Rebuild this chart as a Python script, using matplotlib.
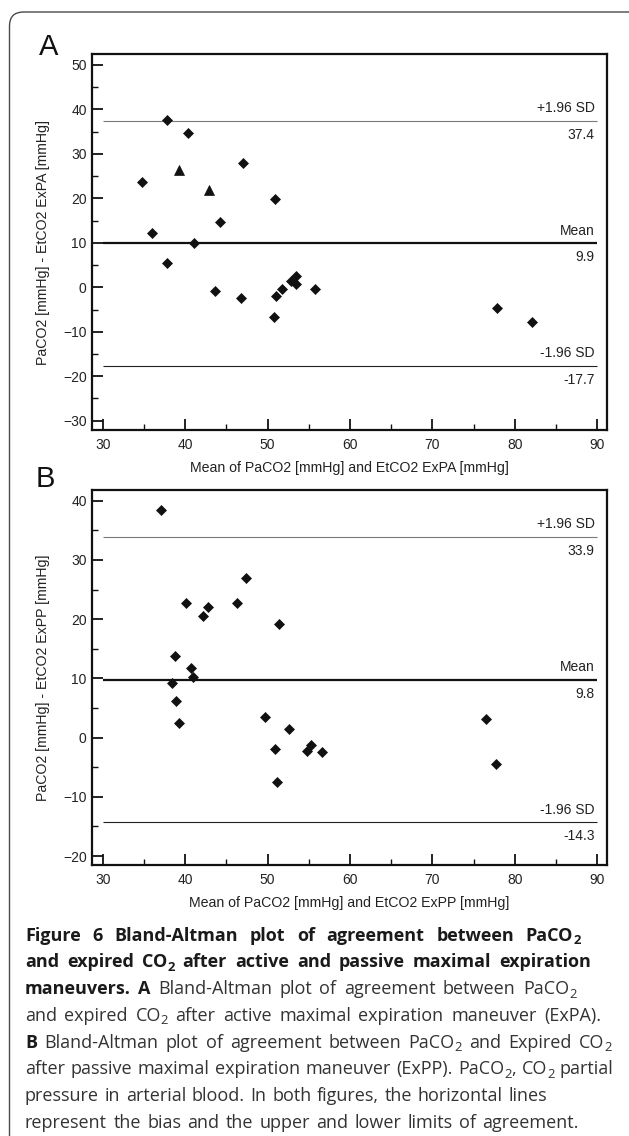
import matplotlib
matplotlib.use("Agg")
import matplotlib.pyplot as plt
from matplotlib.patches import FancyBboxPatch
from matplotlib.transforms import IdentityTransform
from matplotlib.ticker import MultipleLocator

# ---------------- data ----------------
# Panel A: active maximal expiration (ExPA)
a_mean_x = [37.85, 40.4, 34.78, 47.0, 50.96, 44.28, 36.04, 41.1, 37.8, 43.6, 46.8,
            51.05, 51.8, 52.8, 53.4, 53.4, 55.8, 50.8, 77.8, 82.1]
a_diff_y = [37.6, 34.7, 23.7, 28.0, 19.85, 14.66, 12.2, 10.0, 5.4, -0.9, -2.3,
            -1.9, -0.45, 1.3, 2.6, 0.75, -0.4, -6.6, -4.66, -7.8]
a_tri_x = [39.26, 42.87]
a_tri_y = [26.3, 21.8]
a_limits = {"upper": 37.4, "mean": 9.9, "lower": -17.7}

# Panel B: passive maximal expiration (ExPP)
b_mean_x = [37.1, 47.35, 40.14, 42.77, 42.13, 46.28, 51.4, 38.72, 40.72, 41.0, 38.43,
            38.87, 39.2, 49.64, 52.6, 50.96, 51.1, 54.8, 55.25, 56.66, 76.5, 77.7]
b_diff_y = [38.5, 26.9, 22.7, 22.0, 20.45, 22.8, 19.1, 13.8, 11.7, 10.3, 9.2,
            6.1, 2.5, 3.45, 1.47, -1.92, -7.46, -2.26, -1.3, -2.43, 3.2, -4.4]
b_limits = {"upper": 33.9, "mean": 9.8, "lower": -14.3}

x_ticks = [30, 40, 50, 60, 70, 80, 90]
a_y_ticks = [-30, -20, -10, 0, 10, 20, 30, 40, 50]
b_y_ticks = [-20, -10, 0, 10, 20, 30, 40]

CAPTION_LINES = [
    [("Figure 6 Bland-Altman plot of agreement between PaCO_2", True)],
    [("and expired CO_2 after active and passive maximal expiration", True)],
    [("maneuvers. A", True), (" Bland-Altman plot of agreement between PaCO_2", False)],
    [("and expired CO_2 after active maximal expiration maneuver (ExPA).", False)],
    [("B", True), (" Bland-Altman plot of agreement between PaCO_2 and Expired CO_2", False)],
    [("after passive maximal expiration maneuver (ExPP). PaCO_2, CO_2 partial", False)],
    [("pressure in arterial blood. In both figures, the horizontal lines", False)],
    [("represent the bias and the upper and lower limits of agreement.", False)],
]

# ---------------- figure ----------------
W, H = 629, 1136
DPI = 100
fig = plt.figure(figsize=(W / DPI, H / DPI), dpi=DPI)
fig.patch.set_facecolor("white")

PLOT_FONT = ["Liberation Sans", "DejaVu Sans"]
CAP_FONT = ["Open Sans", "DejaVu Sans"]


def px_axes(left, top, right, bottom):
    return fig.add_axes([left / W, 1 - bottom / H, (right - left) / W, (bottom - top) / H])


def style_axes(ax, ylo, yhi, yticks, xlabel, ylabel):
    ax.set_xlim(28.74, 91.16)
    ax.set_ylim(ylo, yhi)
    ax.set_xticks(x_ticks)
    ax.set_yticks(yticks)
    ax.xaxis.set_minor_locator(MultipleLocator(5))
    ax.yaxis.set_minor_locator(MultipleLocator(5))
    ax.tick_params(which="major", direction="in", length=7.8, width=1.3,
                   labelsize=10, color="#111", pad=4)
    ax.tick_params(axis="x", which="major", pad=5.5)
    ax.tick_params(which="minor", direction="in", length=4.0, width=1.0, color="#111")
    for lab in ax.get_xticklabels() + ax.get_yticklabels():
        lab.set_family(PLOT_FONT)
        lab.set_color("#222")
    for sp in ax.spines.values():
        sp.set_linewidth(1.6)
        sp.set_color("#111")
    ax.set_xlabel(xlabel, fontsize=10.2, family=PLOT_FONT, color="#222", labelpad=7)
    ax.set_ylabel(ylabel, fontsize=10.2, family=PLOT_FONT, color="#222")
    ax.yaxis.set_label_coords(-0.082, 0.5)


def limit_lines(ax, lims):
    specs = [("upper", "+1.96 SD", "#7a7a7a", 0.8),
             ("mean", "Mean", "#111111", 1.6),
             ("lower", "-1.96 SD", "#222222", 0.8)]
    for key, name, col, lw in specs:
        v = lims[key]
        ax.plot([30, 90], [v, v], color=col, lw=lw, solid_capstyle="butt", zorder=2)
        ax.annotate(name, xy=(90, v), xytext=(-2, 4), textcoords="offset points",
                    ha="right", va="bottom", fontsize=10, family=PLOT_FONT, color="#222")
        ax.annotate(f"{v:.1f}", xy=(90, v), xytext=(-2, -5), textcoords="offset points",
                    ha="right", va="top", fontsize=10, family=PLOT_FONT, color="#222")


# Panel A
axA = px_axes(92.3, 54.3, 606.9, 430)
limit_lines(axA, a_limits)
axA.plot(a_mean_x, a_diff_y, ls="none", marker="D", ms=5.4, color="#111",
         mec="#111", mew=0.5, zorder=3)
axA.plot(a_tri_x, a_tri_y, ls="none", marker="^", ms=7.5, color="#111",
         mec="#111", mew=0.5, zorder=3)
style_axes(axA, -32.1, 52.4, a_y_ticks,
           "Mean of PaCO2 [mmHg] and EtCO2 ExPA [mmHg]",
           "PaCO2 [mmHg] - EtCO2 ExPA [mmHg]")

# Panel B
axB = px_axes(92.3, 490, 606.9, 865)
limit_lines(axB, b_limits)
axB.plot(b_mean_x, b_diff_y, ls="none", marker="D", ms=5.4, color="#111",
         mec="#111", mew=0.5, zorder=3)
style_axes(axB, -21.5, 41.8, b_y_ticks,
           "Mean of PaCO2 [mmHg] and EtCO2 ExPP [mmHg]",
           "PaCO2 [mmHg] - EtCO2 ExPP [mmHg]")

# panel letters
fig.text(39 / W, 1 - 55 / H, "A", fontsize=21, family=PLOT_FONT, color="#111",
         ha="left", va="baseline")
fig.text(36 / W, 1 - 487 / H, "B", fontsize=21, family=PLOT_FONT, color="#111",
         ha="left", va="baseline")

# rounded outer frame (only the top-left corner lies inside the image)
frame = FancyBboxPatch((9.5, -40), 640, 1164,
                       boxstyle="round,pad=0,rounding_size=14",
                       transform=IdentityTransform(), fill=False,
                       ec="#4a4a4a", lw=1.0)
fig.patches.append(frame)

# ---------------- caption ----------------
renderer = fig.canvas.get_renderer()


def parse_runs(word, bold):
    runs = []
    parts = word.split("_")
    runs.append((parts[0], bold, False))
    for p in parts[1:]:
        runs.append((p[0], bold, True))
        if len(p) > 1:
            runs.append((p[1:], bold, False))
    return [r for r in runs if r[0]]


def split_words(segments):
    words = []
    new_word = True
    for text, bold in segments:
        for k, piece in enumerate(text.split(" ")):
            if k > 0:
                new_word = True
            if piece == "":
                continue
            runs = parse_runs(piece, bold)
            if new_word or not words:
                words.append(runs)
            else:
                words[-1].extend(runs)
            new_word = False
    return words


_width_cache = {}


def text_width(s, bold, size):
    key = (s, bold, round(size, 3))
    if key not in _width_cache:
        t = fig.text(0, 0, s, fontsize=size, fontweight="bold" if bold else "normal",
                     family=CAP_FONT)
        _width_cache[key] = t.get_window_extent(renderer).width
        t.remove()
    return _width_cache[key]


SUB_SCALE = 0.72


def word_width(runs, size):
    return sum(text_width(s, b, size * SUB_SCALE if sub else size) for s, b, sub in runs)


# pick the caption size so the fourth line fits its column width
ref_words = split_words(CAPTION_LINES[3])
probe = 12.0
nat = sum(word_width(w, probe) for w in ref_words) + \
      (len(ref_words) - 1) * text_width(" ", False, probe) * 0.6
cap_size = min(13.0, probe * (601 - 25) / nat)

line_x0 = 25
line_x1 = [580.5, 591.5, 576.5, 601, 612, 613.5, 547, 579]
base0 = 940.7
line_step = 26.75

for i, segs in enumerate(CAPTION_LINES):
    words = split_words(segs)
    widths = [word_width(w, cap_size) for w in words]
    gap = (line_x1[i] - line_x0 - sum(widths)) / (len(words) - 1)
    x = line_x0
    yb = H - (base0 + i * line_step)
    for w, ww in zip(words, widths):
        cx = x
        for s, b, sub in w:
            size = cap_size * SUB_SCALE if sub else cap_size
            yy = yb - (3.5 if sub else 0)
            fig.text(cx / W, yy / H, s, fontsize=size,
                     fontweight="bold" if b else "normal", family=CAP_FONT,
                     color="#1a1a1a" if b else "#333333", ha="left", va="baseline")
            cx += text_width(s, b, size)
        x += ww + gap

fig.savefig("out.png", dpi=DPI)
